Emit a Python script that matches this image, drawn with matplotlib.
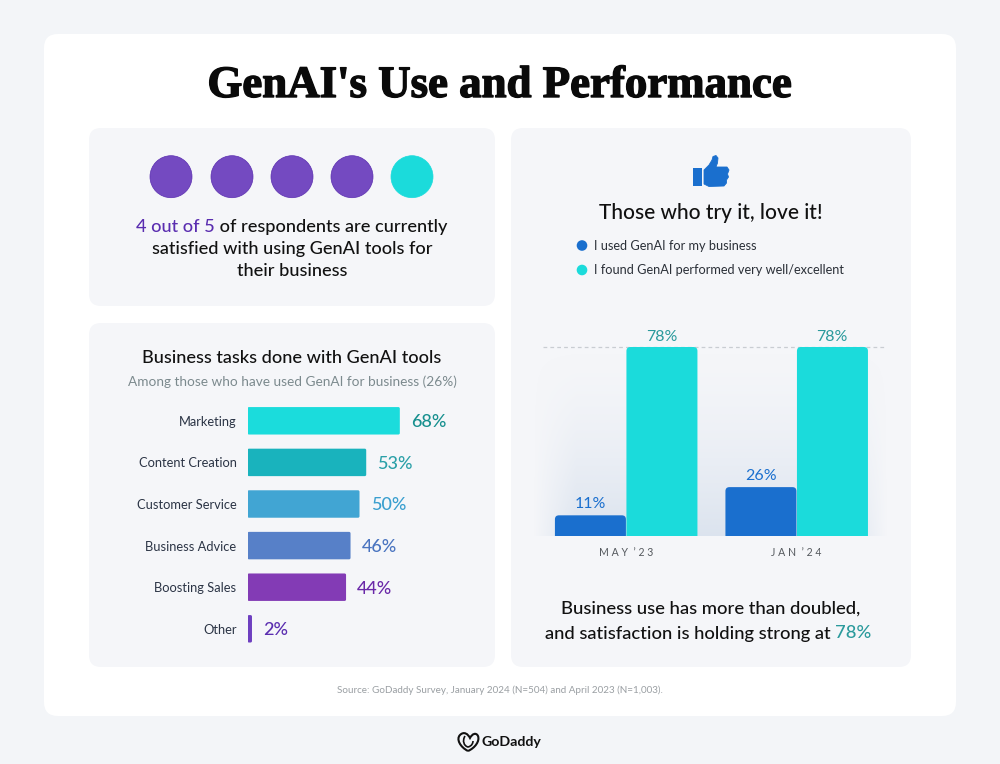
import numpy as np
import matplotlib
matplotlib.use('Agg')
import matplotlib.pyplot as plt
import matplotlib.patheffects as pe
from matplotlib.patches import FancyBboxPatch, Circle, Polygon, PathPatch
from matplotlib.path import Path
from matplotlib.transforms import IdentityTransform

plt.rcParams['font.family'] = ['Lato', 'DejaVu Sans']

# data
TASKS = ['Marketing', 'Content Creation', 'Customer Service', 'Business Advice', 'Boosting Sales', 'Other']
TASK_PCT = [68, 53, 50, 46, 44, 2]
TASK_COL = ['#1bdcdc', '#19b3bd', '#41a5d3', '#5780c8', '#833bb5', '#6e3fc0']
TASK_TXT = ['#17908f', '#2ba0a8', '#3a9fcf', '#4a74c0', '#6a28a8', '#5a2db0']
PERIODS = ['M A Y  \u2019 2 3', 'J A N  \u2019 2 4']
USED = [11, 26]
GOOD = [78, 78]
DOT_COL = ['#744ac1', '#744ac1', '#744ac1', '#744ac1', '#1bdbdb']

BG = '#f3f5f8'; PANEL = '#f5f6f9'; INK = '#111111'; BLUE = '#1a6fce'; TEAL = '#1bdbdb'
W, H = 1000, 764

fig = plt.figure(figsize=(W / 100, H / 100), dpi=100, facecolor=BG)
bg = fig.add_axes([0, 0, 1, 1]); bg.set_xlim(0, W); bg.set_ylim(H, 0); bg.axis('off')
rend = fig.canvas.get_renderer()


def box(x0, y0, x1, y1, r, col):
    bg.add_patch(FancyBboxPatch((x0 + r, y0 + r), x1 - x0 - 2 * r, y1 - y0 - 2 * r,
                                boxstyle=f'round,pad={r},rounding_size={r}', fc=col, ec='none'))


def runs(cx, y, parts, size, weight='medium'):
    # one centred line in several colours
    ts = [bg.text(0, y, s, color=c, fontsize=size, va='center', ha='left', fontweight=weight) for s, c in parts]
    ws = [t.get_window_extent(rend).width for t in ts]
    x = cx - sum(ws) / 2
    for t, w in zip(ts, ws):
        t.set_x(x); x += w


def round_bars(ax, bars, r, extend=0):
    # swap the plain bars for rounded ones, same place as the axes scale put them
    for b in bars:
        e = b.get_window_extent(rend)
        rr = min(r, e.width / 2 - 0.01)
        p = FancyBboxPatch((e.x0 + rr, e.y0 + rr - extend), e.width - 2 * rr, e.height - 2 * rr + extend,
                           boxstyle=f'round,pad={rr},rounding_size={rr}', fc=b.get_facecolor(), ec='none',
                           transform=IdentityTransform(), zorder=b.get_zorder())
        ax.add_artist(p)
        if extend:
            p.set_clip_path(ax.patch); p.set_clip_on(True)
        b.set_visible(False)


# card and panels
box(44, 34, 956, 716, 14, 'white')
box(89, 128, 495, 306, 12, PANEL)
box(89, 323, 495, 667, 12, PANEL)
box(511, 128, 911, 667, 12, PANEL)

bg.text(500, 86, "GenAI's Use and Performance", ha='center', va='center', fontsize=32.3, fontweight='bold',
        family='Liberation Serif', color='#0a0a0a', path_effects=[pe.withStroke(linewidth=1.0, foreground='#0a0a0a')])

# five dots
for x, c in zip([171, 232, 292, 352, 412], DOT_COL):
    bg.add_patch(Circle((x, 176.7), 21, fc=c, ec='#5b2fb0' if c != TEAL else c, lw=0.5))
runs(292, 227, [('4 out of 5', '#5a2db0'), (' of respondents are currently', INK)], 13.1)
runs(292, 249, [('satisfied with using GenAI tools for', INK)], 13.1)
runs(292, 271, [('their business', INK)], 13.1)

# left bars
bg.text(291.5, 358, 'Business tasks done with GenAI tools', ha='center', va='center', fontsize=13.1, color=INK, fontweight='medium')
bg.text(292, 382, 'Among those who have used GenAI for business (26%)', ha='center', va='center', fontsize=9.8, color='#7c8a8e')

ax1 = fig.add_axes([247.5 / W, (H - 649.6) / H, 224 / W, 249.6 / H])
ax1.patch.set_visible(False)
y = np.arange(len(TASKS))
bars1 = ax1.barh(y, TASK_PCT, height=0.66, color=TASK_COL, zorder=2)
ax1.set_xlim(0, 100); ax1.set_ylim(5.5, -0.5)
ax1.set_yticks(y, TASKS, fontsize=9.3, color='#2b3445')
ax1.tick_params(axis='y', length=0, pad=8)
ax1.set_xticks([])
for s in ax1.spines.values():
    s.set_visible(False)
for yy, v, c in zip(y, TASK_PCT, TASK_TXT):
    ax1.annotate(f'{v}%', (v, yy), xytext=(8, -1), textcoords='offset points', va='center', ha='left',
                 fontsize=13, color=c, fontweight='medium')
round_bars(ax1, bars1, 1.5)

# right panel head
hand = [(704, 170), (709, 165), (712, 160), (713, 156.5), (716, 155.5), (718, 158), (717.5, 163), (716, 167), (727, 167),
        (729, 170), (727.5, 174), (728.5, 177), (726.5, 180), (726.5, 183), (724, 186), (709, 186.5), (704, 184)]
bg.add_patch(Polygon(hand, closed=True, fc=BLUE, ec=BLUE, lw=0.6, joinstyle='round'))
bg.add_patch(Polygon([(692.5, 167.5), (701.5, 167.5), (701.5, 186), (692.5, 186)], closed=True, fc=BLUE, ec='none'))
bg.text(711, 213, 'Those who try it, love it!', ha='center', va='center', fontsize=15, color=INK, fontweight='medium')

for yy, c, s in [(245.5, BLUE, 'I used GenAI for my business'), (270, TEAL, 'I found GenAI performed very well/excellent')]:
    bg.add_patch(Circle((582, yy), 5.3, fc=c, ec='none'))
    bg.text(594, yy + 0.3, s, va='center', ha='left', fontsize=9.2, color='#2b3038')

# soft glow behind the columns
gy = np.linspace(0, 1, 120)[:, None]
gx = np.linspace(0, 1, 200)[None, :]
alpha = (gy ** 1.6) * np.clip(np.minimum(gx, 1 - gx) / 0.12, 0, 1)
glow = np.zeros((120, 200, 4)); glow[..., :3] = (0.80, 0.85, 0.91); glow[..., 3] = alpha * 0.62
bg.imshow(glow, extent=(533, 888, 536, 345), aspect='auto', zorder=1)
bg.set_xlim(0, W); bg.set_ylim(H, 0)

# right columns, the two series do not share a scale in the picture
ax2 = fig.add_axes([533 / W, (H - 536) / H, 355 / W, 216 / H])
ax2.patch.set_visible(False)
ax3 = ax2.twinx(); ax3.patch.set_visible(False)
pos = np.arange(len(PERIODS)); bw = 71 / 170.5
b_used = ax2.bar(pos - bw / 2, USED, width=bw, color=BLUE, zorder=2)
b_good = ax3.bar(pos + bw / 2 + 0.003, GOOD, width=bw, color=TEAL, zorder=2)
ax2.set_xlim(-0.545, 1.537)
ax2.set_ylim(0, 216 / 1.88); ax3.set_ylim(0, 216 / 2.423)
ax3.axhline(78, xmin=0.028, xmax=0.99, color='#c9cdd2', lw=0.9, ls=(0, (3, 2.5)), zorder=1)
ax2.set_xticks(pos, PERIODS, fontsize=7.6, color='#55595e')
ax2.tick_params(axis='x', length=0, pad=8)
ax2.set_yticks([]); ax3.set_yticks([])
for a in (ax2, ax3):
    for s in a.spines.values():
        s.set_visible(False)
for p, v in zip(pos, USED):
    ax2.annotate(f'{v}%', (p - bw / 2, v), xytext=(0, 3), textcoords='offset points', ha='center', va='bottom',
                 fontsize=11.5, color=BLUE)
for p, v in zip(pos, GOOD):
    ax3.annotate(f'{v}%', (p + bw / 2, v), xytext=(0, 2.5), textcoords='offset points', ha='center', va='bottom',
                 fontsize=11.5, color='#2a9a9c')
round_bars(ax2, b_used, 4, extend=5)
round_bars(ax3, b_good, 4, extend=5)

runs(711, 609, [('Business use has more than doubled,', INK)], 13.3)
runs(708.5, 633.5, [('and satisfaction is holding strong at ', INK), ('78%', '#2a9a9c')], 13.2)

bg.text(500, 690.5, 'Source: GoDaddy Survey, January 2024 (N=504) and April 2023 (N=1,003).', ha='center', va='center',
        fontsize=7.1, color='#9a9fa3')

# logo
C = Path.CURVE4
heart = Path([(468, 751), (460, 747), (456, 739), (460, 735), (464, 731), (468, 734), (470, 738),
              (472, 734), (476, 732), (478, 736), (480, 741), (475, 748), (468, 751)],
             [Path.MOVETO, C, C, C, C, C, C, C, C, C, C, C, C])
bg.add_patch(PathPatch(heart, fc='none', ec='#111111', lw=1.5))
inner = Path([(465, 736), (462, 741), (464, 746), (468, 747), (472, 746), (473, 743), (473, 741)],
             [Path.MOVETO, C, C, C, C, C, C])
bg.add_patch(PathPatch(inner, fc='none', ec='#111111', lw=1.2))
bg.text(481, 742, 'GoDaddy', va='center', ha='left', fontsize=10.2, fontweight='bold', color='#111111')

fig.savefig('out.png', dpi=100, facecolor=BG)
